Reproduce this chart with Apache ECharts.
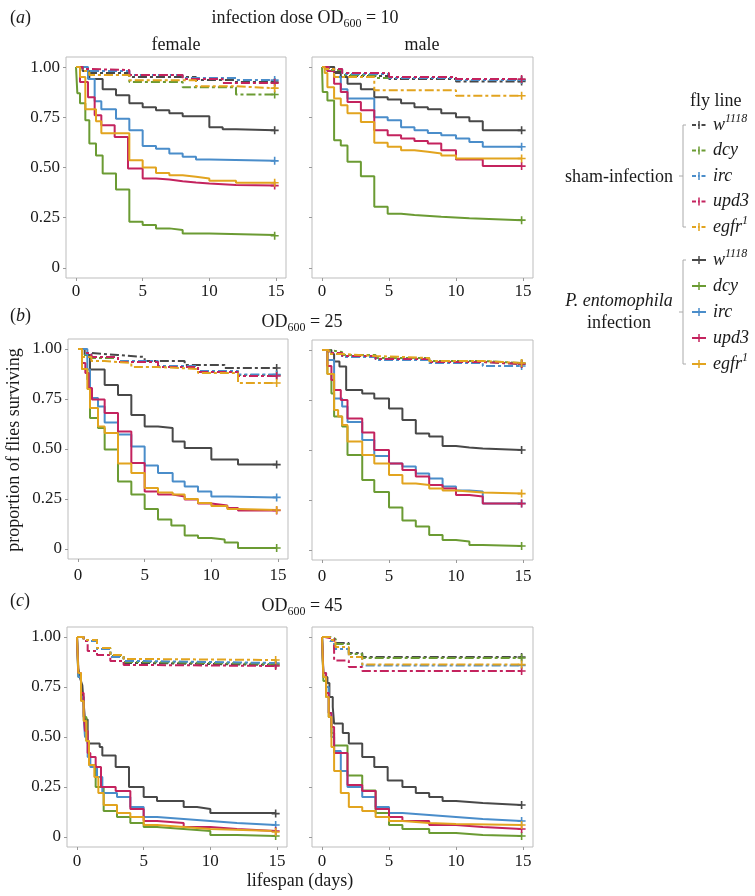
<!DOCTYPE html>
<html>
<head>
<meta charset="utf-8">
<script src="https://cdn.jsdelivr.net/npm/echarts@6/dist/echarts.min.js"></script>
<style>
html,body{margin:0;padding:0;background:#fff;}
#chart{width:755px;height:896px;}
</style>
</head>
<body>
<div id="chart"></div>
<script>
// ---------- data: [day, proportion surviving] ----------
// (a) OD600 = 10, female
const aF_inf_w1118 = [[0,1],[0.5,0.98],[1,0.94],[2,0.89],[3,0.86],[4,0.82],[5,0.80],[6,0.785],[7,0.77],[8,0.755],[10,0.70],[11,0.69],[12,0.685],[14.9,0.685]];
const aF_inf_dcy   = [[0,1],[0.1,0.87],[0.3,0.82],[0.7,0.735],[1,0.62],[1.5,0.56],[2,0.47],[3,0.39],[4,0.23],[5,0.214],[6,0.197],[7,0.189],[8,0.172],[10,0.164],[14.9,0.16]];
const aF_inf_irc   = [[0,1],[0.9,0.94],[1.4,0.83],[1.9,0.79],[3,0.743],[4,0.685],[5,0.607],[6,0.593],[7,0.57],[8,0.553],[9,0.54],[10,0.533],[14.9,0.533]];
const aF_inf_upd3  = [[0,1],[0.3,0.925],[0.9,0.85],[1.4,0.76],[1.9,0.71],[2.9,0.652],[3.9,0.495],[5,0.445],[6,0.44],[7,0.432],[8,0.425],[9,0.42],[10,0.413],[12,0.41],[14.9,0.41]];
const aF_inf_egfr1 = [[0,1],[0.3,0.95],[0.7,0.79],[1.5,0.73],[1.9,0.67],[4,0.536],[5,0.5],[6,0.473],[7,0.462],[8,0.454],[9,0.445],[10,0.434],[12,0.424],[14.9,0.424]];
const aF_sham_w1118 = [[0,1],[0.5,0.99],[1,0.97],[4,0.95],[9,0.935],[12,0.925],[14.9,0.925]];
const aF_sham_dcy   = [[0,1],[0.5,0.98],[1,0.96],[4,0.925],[8,0.9],[12,0.863],[14.9,0.863]];
const aF_sham_irc   = [[0,1],[0.5,0.99],[1,0.98],[4,0.96],[8,0.945],[12,0.935],[14.9,0.935]];
const aF_sham_upd3  = [[0,1],[0.5,0.99],[1,0.985],[4,0.96],[8,0.94],[11,0.92],[14.9,0.92]];
const aF_sham_egfr1 = [[0,1],[0.3,0.98],[1,0.96],[4,0.934],[9,0.904],[12,0.895],[14.9,0.895]];
// (a) male
const aM_inf_w1118 = [[0,1],[0.9,0.975],[1.4,0.95],[1.9,0.917],[2.9,0.89],[3.9,0.85],[4.9,0.838],[5.9,0.82],[6.9,0.8],[7.9,0.79],[8.9,0.77],[10,0.75],[11,0.73],[12,0.685],[14.9,0.685]];
const aM_inf_dcy   = [[0,1],[0.05,0.876],[0.4,0.834],[0.9,0.636],[1.4,0.61],[1.9,0.528],[2.9,0.457],[3.9,0.305],[4.9,0.27],[5.9,0.263],[6.9,0.255],[8.9,0.247],[11,0.238],[14.9,0.238]];
const aM_inf_irc   = [[0,1],[0.4,0.98],[0.9,0.95],[1.4,0.89],[1.9,0.843],[3.9,0.75],[4.9,0.735],[5.9,0.70],[6.9,0.685],[7.9,0.672],[8.9,0.66],[10,0.644],[11,0.627],[12,0.603],[14.9,0.603]];
const aM_inf_upd3  = [[0,1],[0.4,0.98],[0.9,0.917],[1.4,0.876],[1.9,0.826],[2.9,0.785],[3.9,0.685],[4.9,0.66],[5.9,0.644],[6.9,0.632],[7.9,0.62],[8.9,0.586],[10,0.54],[12,0.507],[14.9,0.507]];
const aM_inf_egfr1 = [[0,1],[0.2,0.97],[0.4,0.9],[0.9,0.843],[1.4,0.81],[1.9,0.77],[2.9,0.727],[3.9,0.623],[4.9,0.603],[5.9,0.586],[6.9,0.578],[7.9,0.57],[8.9,0.56],[10,0.545],[14.9,0.545]];
const aM_sham_w1118 = [[0,1],[0.9,0.97],[2,0.955],[5,0.94],[10,0.928],[14.9,0.928]];
const aM_sham_dcy   = [[0,1],[0.5,0.985],[1.5,0.96],[4,0.945],[10,0.935],[14.9,0.935]];
const aM_sham_irc   = [[0,1],[0.5,0.99],[1.5,0.965],[5,0.945],[10,0.935],[14.9,0.935]];
const aM_sham_upd3  = [[0,1],[0.5,0.99],[1.5,0.97],[5,0.95],[10,0.94],[14.9,0.94]];
const aM_sham_egfr1 = [[0,1],[0.2,0.99],[0.9,0.95],[3.9,0.884],[10,0.857],[14.9,0.857]];
// (b) OD600 = 25, female
const bF_inf_w1118 = [[0,1],[0.5,0.97],[0.9,0.897],[2,0.82],[3,0.77],[4,0.67],[5,0.613],[6,0.605],[7.1,0.538],[8,0.505],[10,0.447],[12,0.422],[14.9,0.422]];
const bF_inf_dcy   = [[0,1],[0.3,0.9],[0.7,0.847],[0.9,0.655],[1.5,0.605],[2,0.497],[3,0.338],[4,0.272],[5,0.2],[6,0.147],[7,0.117],[8,0.067],[9,0.055],[10,0.047],[11,0.033],[12,0.005],[14.9,0.005]];
const bF_inf_irc   = [[0,1],[0.7,0.897],[0.9,0.755],[1.5,0.713],[2,0.633],[3,0.572],[4,0.513],[5,0.418],[6,0.38],[7.1,0.338],[8,0.313],[9,0.288],[10,0.263],[11.2,0.258],[14.9,0.258]];
const bF_inf_upd3  = [[0,1],[0.3,0.93],[0.55,0.88],[0.8,0.805],[1.05,0.747],[2,0.68],[3,0.588],[4,0.43],[5,0.288],[6,0.272],[7.1,0.263],[8,0.247],[9,0.227],[10,0.217],[11.2,0.205],[12,0.193],[14.9,0.193]];
const bF_inf_egfr1 = [[0,1],[0.3,0.9],[0.7,0.8],[0.9,0.705],[1.5,0.613],[2,0.58],[3,0.427],[4,0.38],[5,0.305],[6,0.283],[7.1,0.272],[8,0.25],[9,0.23],[10,0.215],[11.2,0.2],[12,0.195],[14.9,0.195]];
const bF_sham_w1118 = [[0,1],[0.3,0.98],[1,0.97],[3,0.96],[5,0.94],[8,0.92],[11,0.905],[14.9,0.905]];
const bF_sham_dcy   = [[0,1],[0.3,0.97],[1,0.955],[3,0.935],[6,0.91],[9,0.89],[12,0.87],[14.9,0.87]];
const bF_sham_irc   = [[0,1],[0.3,0.975],[1,0.96],[3,0.94],[6,0.915],[9,0.89],[12,0.872],[14.9,0.872]];
const bF_sham_upd3  = [[0,1],[0.3,0.98],[1,0.96],[3,0.935],[6,0.91],[9,0.885],[12,0.865],[14.9,0.865]];
const bF_sham_egfr1 = [[0,1],[0.3,0.96],[1,0.94],[2,0.93],[4,0.91],[6,0.9],[9,0.88],[12,0.83],[14.9,0.83]];
// (b) male
const bM_inf_w1118 = [[0,1],[0.7,0.98],[0.9,0.942],[1.3,0.917],[1.8,0.8],[3,0.783],[3.9,0.758],[5,0.708],[6,0.65],[7,0.583],[8,0.567],[9,0.52],[10,0.513],[11,0.508],[12,0.5],[14.9,0.5]];
const bM_inf_dcy   = [[0,1],[0.4,0.88],[0.7,0.783],[0.9,0.667],[1.5,0.617],[1.9,0.475],[3,0.35],[3.9,0.29],[5,0.213],[6,0.147],[7,0.117],[8,0.075],[9,0.05],[10,0.042],[11,0.025],[12,0.02],[14.9,0.02]];
const bM_inf_irc   = [[0,1],[0.4,0.95],[0.9,0.758],[1.5,0.717],[1.9,0.64],[3,0.55],[3.9,0.47],[5,0.433],[6,0.417],[7,0.383],[8,0.358],[9,0.317],[10,0.297],[11,0.292],[12,0.233],[14.9,0.233]];
const bM_inf_upd3  = [[0,1],[0.4,0.92],[0.7,0.85],[0.9,0.8],[1.4,0.75],[1.9,0.658],[3,0.587],[3.9,0.5],[5,0.433],[6,0.4],[7,0.367],[8,0.325],[9,0.308],[10,0.275],[11,0.267],[12,0.232],[14.9,0.232]];
const bM_inf_egfr1 = [[0,1],[0.4,0.88],[0.9,0.7],[1.2,0.667],[1.5,0.625],[1.9,0.542],[3,0.475],[3.9,0.433],[5,0.375],[6,0.333],[7,0.325],[8,0.308],[9,0.297],[10,0.287],[12,0.282],[14.9,0.282]];
const bM_sham_w1118 = [[0,1],[0.5,0.985],[1.5,0.97],[4,0.955],[8,0.94],[12,0.93],[14.9,0.93]];
const bM_sham_dcy   = [[0,1],[0.5,0.99],[1.5,0.975],[4,0.96],[8,0.945],[12,0.935],[14.9,0.935]];
const bM_sham_irc   = [[0,1],[0.5,0.98],[1.5,0.965],[4,0.95],[8,0.935],[12,0.92],[14.9,0.92]];
const bM_sham_upd3  = [[0,1],[0.5,0.985],[1.5,0.97],[4,0.955],[8,0.94],[12,0.93],[14.9,0.93]];
const bM_sham_egfr1 = [[0,1],[0.5,0.98],[1.5,0.97],[4,0.96],[8,0.945],[12,0.935],[14.9,0.935]];
// (c) OD600 = 45, female
const cF_inf_w1118 = [[0,1],[0.1,0.842],[0.25,0.79],[0.4,0.758],[0.5,0.667],[0.6,0.587],[0.8,0.467],[1.7,0.45],[1.9,0.408],[2.9,0.35],[3.9,0.25],[5,0.2],[6,0.18],[8,0.15],[9,0.14],[10,0.12],[14.9,0.117]];
const cF_inf_dcy   = [[0,1],[0.1,0.8],[0.3,0.7],[0.5,0.6],[0.7,0.48],[0.9,0.36],[1.4,0.25],[2,0.13],[3,0.1],[4,0.07],[5,0.05],[6,0.04],[8,0.03],[10,0.01],[12,0.005],[14.9,0.005]];
const cF_inf_irc   = [[0,1],[0.1,0.8],[0.3,0.7],[0.5,0.6],[0.6,0.5],[0.8,0.4],[1,0.35],[1.5,0.3],[1.9,0.22],[3,0.2],[4,0.15],[5,0.1],[6,0.09],[8,0.08],[10,0.07],[12,0.06],[14.9,0.06]];
const cF_inf_upd3  = [[0,1],[0.1,0.82],[0.3,0.72],[0.5,0.62],[0.6,0.53],[0.8,0.42],[1,0.4],[1.4,0.35],[1.8,0.25],[2.9,0.23],[4,0.14],[5,0.08],[6,0.07],[8,0.05],[10,0.04],[12,0.03],[14.9,0.03]];
const cF_inf_egfr1 = [[0,1],[0.1,0.82],[0.3,0.68],[0.5,0.58],[0.7,0.48],[0.9,0.36],[1.3,0.3],[1.6,0.22],[2,0.16],[3,0.12],[4,0.1],[5,0.06],[6,0.05],[8,0.04],[10,0.03],[14.9,0.025]];
const cF_sham_w1118 = [[0,1],[0.5,0.985],[1.5,0.94],[2.5,0.9],[3.5,0.87],[5,0.86],[14.9,0.86]];
const cF_sham_dcy   = [[0,1],[0.5,0.985],[1.5,0.945],[2.5,0.905],[3.5,0.875],[5,0.865],[14.9,0.865]];
const cF_sham_irc   = [[0,1],[0.5,0.98],[1.5,0.94],[2.5,0.9],[3.5,0.88],[5,0.87],[14.9,0.87]];
const cF_sham_upd3  = [[0,1],[0.5,0.98],[0.8,0.93],[1.5,0.91],[2.5,0.88],[3.5,0.86],[5,0.855],[14.9,0.855]];
const cF_sham_egfr1 = [[0,1],[0.5,0.985],[1.5,0.945],[2.5,0.91],[3.5,0.89],[5,0.885],[14.9,0.885]];
// (c) male
const cM_inf_w1118 = [[0,1],[0.1,0.8],[0.4,0.77],[0.55,0.7],[0.8,0.65],[0.9,0.567],[1.55,0.52],[2,0.467],[3,0.4],[3.9,0.35],[4.9,0.283],[6,0.25],[7,0.22],[8,0.2],[9,0.18],[10,0.17],[12,0.16],[14.9,0.16]];
const cM_inf_dcy   = [[0,1],[0.1,0.78],[0.3,0.7],[0.5,0.6],[0.7,0.52],[0.9,0.458],[1.9,0.308],[3,0.233],[4,0.12],[5,0.06],[6,0.04],[8,0.02],[10,0.01],[12,0.005],[14.9,0.005]];
const cM_inf_irc   = [[0,1],[0.1,0.82],[0.3,0.75],[0.5,0.62],[0.7,0.5],[0.9,0.43],[1.4,0.33],[1.9,0.25],[3,0.2],[4,0.15],[5,0.12],[6,0.11],[8,0.1],[10,0.09],[12,0.08],[14.9,0.08]];
const cM_inf_upd3  = [[0,1],[0.1,0.82],[0.3,0.72],[0.5,0.62],[0.7,0.55],[0.9,0.42],[1.9,0.26],[3,0.23],[4,0.14],[5,0.1],[6,0.08],[8,0.06],[10,0.05],[12,0.04],[14.9,0.04]];
const cM_inf_egfr1 = [[0,1],[0.1,0.8],[0.3,0.7],[0.5,0.6],[0.7,0.45],[0.9,0.33],[1.4,0.22],[2,0.15],[3,0.13],[4,0.1],[5,0.08],[6,0.07],[8,0.065],[10,0.06],[14.9,0.06]];
const cM_sham_w1118 = [[0,1],[0.6,0.99],[1,0.97],[2,0.92],[3,0.9],[14.9,0.9]];
const cM_sham_dcy   = [[0,1],[0.6,0.99],[1,0.965],[2,0.915],[3,0.895],[14.9,0.895]];
const cM_sham_irc   = [[0,1],[0.6,0.98],[0.9,0.94],[2,0.9],[3,0.858],[14.9,0.858]];
const cM_sham_upd3  = [[0,1],[0.2,0.99],[0.9,0.883],[2,0.85],[3,0.83],[14.9,0.83]];
const cM_sham_egfr1 = [[0,1],[0.6,0.985],[1,0.95],[2,0.9],[3,0.862],[14.9,0.862]];

const xTicks = [0, 5, 10, 15];
const yTicks = [0, 0.25, 0.5, 0.75, 1];
const lineNames = ['w1118', 'dcy', 'irc', 'upd3', 'egfr1'];

// ---------- assembly ----------
const panels = [
  {inf:[aF_inf_w1118,aF_inf_dcy,aF_inf_irc,aF_inf_upd3,aF_inf_egfr1], sham:[aF_sham_w1118,aF_sham_dcy,aF_sham_irc,aF_sham_upd3,aF_sham_egfr1]},
  {inf:[aM_inf_w1118,aM_inf_dcy,aM_inf_irc,aM_inf_upd3,aM_inf_egfr1], sham:[aM_sham_w1118,aM_sham_dcy,aM_sham_irc,aM_sham_upd3,aM_sham_egfr1]},
  {inf:[bF_inf_w1118,bF_inf_dcy,bF_inf_irc,bF_inf_upd3,bF_inf_egfr1], sham:[bF_sham_w1118,bF_sham_dcy,bF_sham_irc,bF_sham_upd3,bF_sham_egfr1]},
  {inf:[bM_inf_w1118,bM_inf_dcy,bM_inf_irc,bM_inf_upd3,bM_inf_egfr1], sham:[bM_sham_w1118,bM_sham_dcy,bM_sham_irc,bM_sham_upd3,bM_sham_egfr1]},
  {inf:[cF_inf_w1118,cF_inf_dcy,cF_inf_irc,cF_inf_upd3,cF_inf_egfr1], sham:[cF_sham_w1118,cF_sham_dcy,cF_sham_irc,cF_sham_upd3,cF_sham_egfr1]},
  {inf:[cM_inf_w1118,cM_inf_dcy,cM_inf_irc,cM_inf_upd3,cM_inf_egfr1], sham:[cM_sham_w1118,cM_sham_dcy,cM_sham_irc,cM_sham_upd3,cM_sham_egfr1]}
];
const COLORS = ['#484848', '#6b9b33', '#4a8dca', '#c4235e', '#e2a41f'];
const FONT = 'Liberation Serif';
const TXT = '#1a1a1a';
const gridBoxes = [
  {left:66, top:57, width:220, height:221, labelMargin:5},
  {left:312, top:57, width:221, height:221, labelMargin:5},
  {left:68, top:339, width:220, height:220, labelMargin:8},
  {left:312, top:340, width:221, height:220, labelMargin:8},
  {left:67, top:627, width:220, height:220, labelMargin:6},
  {left:312, top:627, width:221, height:220, labelMargin:6}
];
const PLUS = 'path://M4,0H6V4H10V6H6V10H4V6H0V4H4Z';

const grids = [], xAxes = [], yAxes = [], series = [];
gridBoxes.forEach((g, i) => {
  grids.push({left:g.left, top:g.top, width:g.width, height:g.height, show:true, borderColor:'#bdbdbd', borderWidth:1, backgroundColor:'#fff'});
  xAxes.push({
    type:'value', gridIndex:i, min:-0.75, max:15.75, position:'bottom',
    splitLine:{show:false}, axisLine:{show:false, onZero:false},
    axisTick:{show:true, inside:false, customValues:xTicks, length:3, lineStyle:{color:'#999'}},
    axisLabel:{customValues:xTicks, fontFamily:FONT, fontSize:17, color:TXT, margin:g.labelMargin}
  });
  const isFemale = i % 2 === 0;
  yAxes.push({
    type:'value', gridIndex:i, min:-0.05, max:1.05, position:'left',
    splitLine:{show:false}, axisLine:{show:false, onZero:false},
    axisTick:{show:true, inside:false, customValues:yTicks, length:3, lineStyle:{color:'#999'}},
    axisLabel:{show:isFemale, customValues:yTicks, fontFamily:FONT, fontSize:17, color:TXT, margin:6,
      formatter: v => (v === 0 ? '0' : v.toFixed(2))}
  });
  const mk = (arr, k, dashed) => ({
    type:'line', xAxisIndex:i, yAxisIndex:i, step:'end', name: lineNames[k] + (dashed ? ' sham' : ' inf'),
    symbol:PLUS, symbolSize:8, showSymbol:true, showAllSymbol:true,
    data: arr.map((p, j) => j === arr.length - 1 ? {value:p} : {value:p, symbol:'none'}),
    lineStyle:{color:COLORS[k], width:2, type: dashed ? [9,3,3,3] : 'solid'},
    itemStyle:{color:COLORS[k]},
    silent:true, animation:false, z: dashed ? 3 : 2
  });
  panels[i].sham.forEach((arr, k) => series.push(mk(arr, k, true)));
  panels[i].inf.forEach((arr, k) => series.push(mk(arr, k, false)));
});

// ---------- text & legend (graphic) ----------
const base = {fontFamily:FONT, fontSize:18, fill:TXT};
const rich = {
  n:{fontFamily:FONT, fontSize:18, color:TXT, lineHeight:24},
  i:{fontFamily:FONT, fontSize:18, color:TXT, fontStyle:'italic', lineHeight:24},
  sub:{fontFamily:FONT, fontSize:12, color:TXT, verticalAlign:'bottom', lineHeight:24},
  sup:{fontFamily:FONT, fontSize:12, color:TXT, fontStyle:'italic', verticalAlign:'top', lineHeight:24}
};
function txt(x, y, text, align, extra) {
  return Object.assign({type:'text', x:x, y:y, silent:true,
    style:Object.assign({}, base, {text:text, rich:rich, align:align, textAlign:align, verticalAlign:'middle', textVerticalAlign:'middle'})}, extra || {});
}
const graphics = [];
graphics.push(txt(10, 18, '{n|(}{i|a}{n|)}', 'left'));
graphics.push(txt(305, 18, '{n|infection dose OD}{sub|600}{n| = 10}', 'center'));
graphics.push(txt(176, 45, '{n|female}', 'center'));
graphics.push(txt(422, 45, '{n|male}', 'center'));
graphics.push(txt(10, 316, '{n|(}{i|b}{n|)}', 'left'));
graphics.push(txt(302, 322, '{n|OD}{sub|600}{n| = 25}', 'center'));
graphics.push(txt(10, 601, '{n|(}{i|c}{n|)}', 'left'));
graphics.push(txt(302, 606, '{n|OD}{sub|600}{n| = 45}', 'center'));
graphics.push(txt(300, 881, '{n|lifespan (days)}', 'center'));
graphics.push(txt(14, 450, '{n|proportion of flies surviving}', 'center', {rotation:Math.PI/2}));

// legend
graphics.push(txt(690, 101, '{n|fly line}', 'left'));
graphics.push(txt(673, 177, '{n|sham-infection}', 'right'));
graphics.push(txt(619, 301, '{i|P. entomophila}', 'center'));
graphics.push(txt(619, 323, '{n|infection}', 'center'));
const shamY = [125, 150.5, 176, 201.5, 227];
const infY = [260, 286, 312, 338, 364];
const labels = ['{i|w}{sup|1118}', '{i|dcy}', '{i|irc}', '{i|upd3}', '{i|egfr}{sup|1}'];
const bracketStyle = {stroke:'#aaaaaa', lineWidth:1, fill:null};
function bracket(y0, y1) {
  const ym = (y0 + y1) / 2;
  graphics.push({type:'polyline', silent:true, shape:{points:[[686,y0],[683,y0],[683,y1],[686,y1]]}, style:bracketStyle});
  graphics.push({type:'line', silent:true, shape:{x1:679, y1:ym, x2:683, y2:ym}, style:bracketStyle});
}
bracket(shamY[0], shamY[4]);
bracket(infY[0], infY[4]);
function key(y, k, dashed) {
  const c = COLORS[k];
  graphics.push({type:'line', silent:true, shape:{x1:692, y1:y, x2:706, y2:y},
    style:{stroke:c, lineWidth:2, lineDash: dashed ? [4,2,1.5,2] : null}});
  graphics.push({type:'line', silent:true, shape:{x1:699, y1:y-4, x2:699, y2:y+4}, style:{stroke:c, lineWidth:1.5}});
  graphics.push(txt(713, y, labels[k], 'left'));
}
shamY.forEach((y, k) => key(y, k, true));
infY.forEach((y, k) => key(y, k, false));

const chart = echarts.init(document.getElementById('chart'), null, {renderer:'canvas'});
chart.setOption({
  backgroundColor:'#ffffff',
  animation:false,
  grid:grids, xAxis:xAxes, yAxis:yAxes, series:series,
  graphic:{elements:graphics}
});
</script>
</body>
</html>
